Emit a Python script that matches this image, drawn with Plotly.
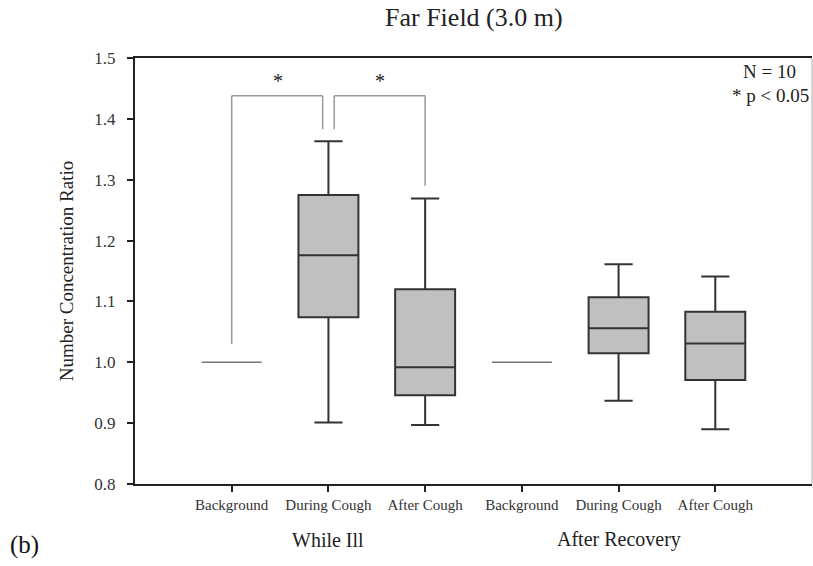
import plotly.graph_objects as go

# ---- data ----
categories = ["Background", "During Cough", "After Cough",
              "Background", "During Cough", "After Cough"]
groups = ["While Ill", "After Recovery"]
lower_whisker = [1.000, 0.901, 0.897, 1.000, 0.937, 0.890]
q1_vals       = [1.000, 1.074, 0.946, 1.000, 1.015, 0.971]
median_vals   = [1.000, 1.176, 0.992, 1.000, 1.056, 1.031]
q3_vals       = [1.000, 1.275, 1.120, 1.000, 1.107, 1.083]
upper_whisker = [1.000, 1.363, 1.269, 1.000, 1.161, 1.141]
y_ticks = [0.8, 0.9, 1.0, 1.1, 1.2, 1.3, 1.4, 1.5]

# significance brackets: (left x, left bottom y, right x, right bottom y, top y)
brackets = [
    (1.0, 1.030, 1.94, 1.383, 1.438),
    (2.06, 1.383, 3.0, 1.290, 1.438),
]
star_x = [1.48, 2.53]
star_y = 1.462

positions = list(range(1, len(categories) + 1))
SERIF = "Liberation Serif, Times New Roman, serif"

fig = go.Figure()
for i, pos in enumerate(positions):
    flat = q1_vals[i] == q3_vals[i]
    fig.add_trace(go.Box(
        x=[pos],
        q1=[q1_vals[i]], median=[median_vals[i]], q3=[q3_vals[i]],
        lowerfence=[lower_whisker[i]], upperfence=[upper_whisker[i]],
        width=0.62,
        whiskerwidth=0 if flat else 0.47,
        fillcolor="#ffffff" if flat else "#c0c0c0",
        line=dict(color="#777777" if flat else "#333333", width=1.5 if flat else 2),
        boxpoints=False,
        showlegend=False,
        hoverinfo="skip",
    ))

shapes = []
for (xl, yl, xr, yr, yt) in brackets:
    for (x0, y0, x1, y1) in [(xl, yl, xl, yt), (xl, yt, xr, yt), (xr, yt, xr, yr)]:
        shapes.append(dict(type="line", xref="x", yref="y", x0=x0, y0=y0, x1=x1, y1=y1,
                           line=dict(color="#999999", width=1.5)))
# thin right border
shapes.append(dict(type="line", xref="paper", yref="paper", x0=1, x1=1, y0=0, y1=1,
                   line=dict(color="#aaaaaa", width=1)))

annotations = []
for sx in star_x:
    annotations.append(dict(x=sx, y=star_y, xref="x", yref="y", text="*", showarrow=False,
                            yanchor="middle",
                            font=dict(family=SERIF, size=20, color="#222222")))
annotations.append(dict(x=0.980, y=0.969, xref="paper", yref="paper", text="N = 10",
                        showarrow=False, xanchor="right", yanchor="middle",
                        font=dict(family=SERIF, size=19, color="#222222")))
annotations.append(dict(x=0.9985, y=0.913, xref="paper", yref="paper", text="* p < 0.05",
                        showarrow=False, xanchor="right", yanchor="middle",
                        font=dict(family=SERIF, size=19, color="#222222")))
# group labels
for gi, g in enumerate(groups):
    annotations.append(dict(x=positions[gi * 3 + 1], y=-0.131, xref="x", yref="paper",
                            text=g, showarrow=False, yanchor="middle",
                            font=dict(family=SERIF, size=20, color="#222222")))
annotations.append(dict(x=-0.1876, y=-0.143, xref="paper", yref="paper", text="(b)",
                        showarrow=False, xanchor="left", yanchor="middle",
                        font=dict(family=SERIF, size=25, color="#111111")))
annotations.append(dict(x=0.5, y=1.094, xref="paper", yref="paper", text="Far Field (3.0 m)",
                        showarrow=False, yanchor="middle",
                        font=dict(family=SERIF, size=26, color="#222222")))

fig.update_layout(
    width=813, height=566,
    margin=dict(l=135, r=1, t=58, b=82),
    plot_bgcolor="white", paper_bgcolor="white",
    shapes=shapes, annotations=annotations,
    font=dict(family=SERIF, color="#222222"),
    xaxis=dict(
        range=[0, 7], tickvals=positions, ticktext=categories,
        showgrid=False, zeroline=False,
        showline=True, linecolor="#222222", linewidth=2, mirror=True,
        ticks="outside", ticklen=6, tickwidth=1.5, tickcolor="#222222",
        tickfont=dict(family=SERIF, size=15, color="#333333"),
    ),
    yaxis=dict(
        range=[0.8, 1.5], tickvals=y_ticks, tickformat=".1f",
        showgrid=False, zeroline=False,
        showline=True, linecolor="#222222", linewidth=2,
        ticks="outside", ticklen=6, tickwidth=1.5, tickcolor="#222222",
        ticklabelstandoff=8,
        tickfont=dict(family=SERIF, size=17, color="#333333"),
        title=dict(text="Number Concentration Ratio", standoff=16,
                   font=dict(family=SERIF, size=19, color="#222222")),
    ),
)

fig.write_html("out.html")
